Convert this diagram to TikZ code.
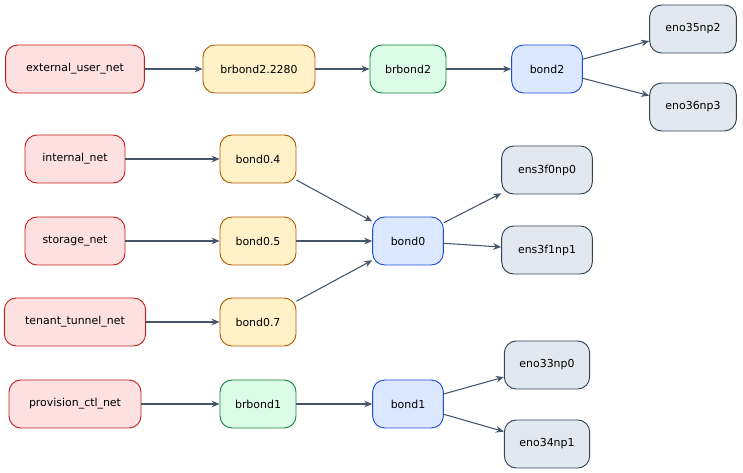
\documentclass[tikz,border=0pt]{standalone}
\usepackage{fontspec}
\setmainfont{DejaVu Sans}
\usetikzlibrary{arrows.meta}
\definecolor{netfill}{HTML}{FDE0E0}\definecolor{netdraw}{HTML}{C41E1E}
\definecolor{vlanfill}{HTML}{FFF2C8}\definecolor{vlandraw}{HTML}{B35900}
\definecolor{brfill}{HTML}{DCFCE7}\definecolor{brdraw}{HTML}{15803D}
\definecolor{bondfill}{HTML}{DBE8FF}\definecolor{bonddraw}{HTML}{1D4ED8}
\definecolor{nicfill}{HTML}{E2E8F0}\definecolor{nicdraw}{HTML}{334155}
\definecolor{edge}{HTML}{475569}
\tikzset{
  box/.style={rounded corners=9pt, minimum height=36pt, inner sep=2pt,
    line width=0.7pt, font=\fontsize{8.2}{10}\selectfont},
  net/.style={box, fill=netfill, draw=netdraw},
  vlan/.style={box, fill=vlanfill, draw=vlandraw, minimum width=57pt},
  br/.style={box, fill=brfill, draw=brdraw, minimum width=57pt},
  bond/.style={box, fill=bondfill, draw=bonddraw, minimum width=53pt},
  nic/.style={box, fill=nicfill, draw=nicdraw},
  link/.style={draw=edge, line width=0.8pt, -{Stealth[length=6pt,width=5pt]}}
}
\begin{document}
\begin{tikzpicture}[x=0.75pt,y=-0.75pt]
\useasboundingbox (0,0) rectangle (743,473);

% networks
\node[net, minimum width=104pt] (ext) at (75,69) {external\_user\_net};
\node[net, minimum width=75pt] (int) at (75,159) {internal\_net};
\node[net, minimum width=75pt] (sto) at (75,241) {storage\_net};
\node[net, minimum width=106pt] (ten) at (75,322) {tenant\_tunnel\_net};
\node[net, minimum width=99pt] (prov) at (75,404) {provision\_ctl\_net};

% vlans and bridges
\node[vlan, minimum width=84pt] (brv) at (259,69) {brbond2.2280};
\node[br] (br2) at (408,69) {brbond2};
\node[vlan] (v4) at (258,159) {bond0.4};
\node[vlan] (v5) at (258,241) {bond0.5};
\node[vlan] (v7) at (258,322) {bond0.7};
\node[br] (br1) at (258,404) {brbond1};

% bonds
\node[bond] (b2) at (547,69) {bond2};
\node[bond] (b0) at (408,241) {bond0};
\node[bond] (b1) at (408,404) {bond1};

% nics
\node[nic, minimum width=65pt] (n35) at (693,29) {eno35np2};
\node[nic, minimum width=65pt] (n36) at (693,107) {eno36np3};
\node[nic, minimum width=68pt] (f0) at (547,170) {ens3f0np0};
\node[nic, minimum width=68pt] (f1) at (547,250) {ens3f1np1};
\node[nic, minimum width=64pt] (n33) at (547,365) {eno33np0};
\node[nic, minimum width=64pt] (n34) at (547,444) {eno34np1};

\draw[link] (ext) -- (brv);
\draw[link] (brv) -- (br2);
\draw[link] (br2) -- (b2);
\draw[link] (b2) -- (n35);
\draw[link] (b2) -- (n36);
\draw[link] (int) -- (v4);
\draw[link] (sto) -- (v5);
\draw[link] (ten) -- (v7);
\draw[link] (v4) -- (b0);
\draw[link] (v5) -- (b0);
\draw[link] (v7) -- (b0);
\draw[link] (b0) -- (f0);
\draw[link] (b0) -- (f1);
\draw[link] (prov) -- (br1);
\draw[link] (br1) -- (b1);
\draw[link] (b1) -- (n33);
\draw[link] (b1) -- (n34);
\end{tikzpicture}
\end{document}
